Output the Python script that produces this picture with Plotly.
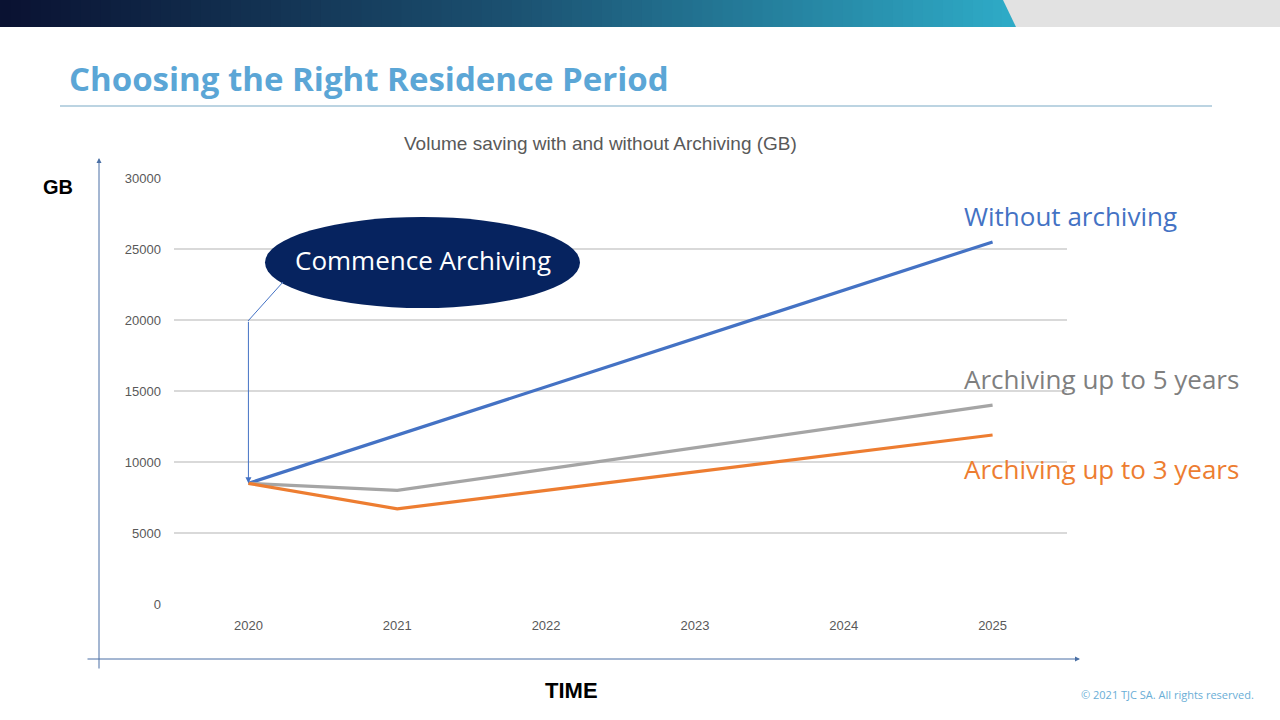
import plotly.graph_objects as go

years = ["2020", "2021", "2022", "2023", "2024", "2025"]
without_archiving = [8500, 11900, 15300, 18700, 22100, 25500]
archiving_5y = [8500, 8000, 9500, 11000, 12500, 14000]
archiving_3y = [8500, 6700, 8000, 9300, 10600, 11900]
y_ticks = [0, 5000, 10000, 15000, 20000, 25000, 30000]

W, H = 1280, 720
def px(x):
    return x / W
def py(y):
    return 1 - y / H

fig = go.Figure()
series = [
    ("Without archiving", without_archiving, "#4472c4"),
    ("Archiving up to 5 years", archiving_5y, "#a5a5a5"),
    ("Archiving up to 3 years", archiving_3y, "#ed7d31"),
]
for name, vals, col in series:
    fig.add_trace(go.Scatter(x=years, y=vals, mode="lines", name=name,
                             line=dict(color=col, width=3.2), showlegend=False))

shapes = []
shapes.append(dict(type="rect", xref="paper", yref="paper", x0=0, x1=1, y0=py(27), y1=1,
                   fillcolor="#e2e2e2", line=dict(width=0), layer="below"))
stops = [(0, (10, 18, 50)), (0.5, (27, 80, 112)), (1.0, (46, 170, 198))]
def interp(t):
    for (t0, c0), (t1, c1) in zip(stops[:-1], stops[1:]):
        if t <= t1:
            f = (t - t0) / (t1 - t0)
            return "rgb(%d,%d,%d)" % tuple(round(a + (b - a) * f) for a, b in zip(c0, c1))
    return "rgb(%d,%d,%d)" % stops[-1][1]
N = 100
xe = 1003
for i in range(N):
    x0 = xe * i / N
    x1 = xe * (i + 1) / N + 1
    shapes.append(dict(type="rect", xref="paper", yref="paper", x0=px(x0), x1=px(min(x1, xe)),
                       y0=py(27), y1=1, fillcolor=interp(i / N), line=dict(width=0), layer="below"))
shapes.append(dict(type="path", xref="paper", yref="paper",
                   path="M %f,%f L %f,%f L %f,%f L %f,%f Z" % (px(xe - 1), 1, px(1003), 1, px(1016), py(27), px(xe - 1), py(27)),
                   fillcolor=interp(1.0), line=dict(width=0), layer="below"))
shapes.append(dict(type="line", xref="paper", yref="paper", x0=px(60), x1=px(1212), y0=py(106), y1=py(106),
                   line=dict(color="#7aa9c6", width=1.2)))
shapes.append(dict(type="circle", xref="paper", yref="paper", x0=px(265), x1=px(580), y0=py(308), y1=py(217),
                   fillcolor="#06235f", line=dict(width=0)))
shapes.append(dict(type="line", xref="paper", yref="paper", x0=px(283), y0=py(282), x1=px(248), y1=py(321),
                   line=dict(color="#4472c4", width=1)))

annotations = []
annotations.append(dict(x=0, y=without_archiving[0], xref="x", yref="y", ax=0, ay=-163,
                        showarrow=True, arrowhead=2, arrowsize=1.2, arrowwidth=1, arrowcolor="#4472c4", text=""))
annotations.append(dict(x=px(99), y=py(158), xref="paper", yref="paper", ax=0, ay=512,
                        showarrow=True, arrowhead=2, arrowsize=1, arrowwidth=1, arrowcolor="#4a6fa5", text=""))
annotations.append(dict(x=px(1080), y=py(659), xref="paper", yref="paper", ax=-994, ay=0,
                        showarrow=True, arrowhead=2, arrowsize=1, arrowwidth=1, arrowcolor="#4a6fa5", text=""))

def txt(text, x, y, size, color, family, xanchor="left", bold=False):
    annotations.append(dict(text=("<b>%s</b>" % text) if bold else text, x=px(x), y=py(y),
                            xref="paper", yref="paper", xanchor=xanchor, yanchor="middle",
                            showarrow=False, font=dict(size=size, color=color, family=family)))

txt("Choosing the Right Residence Period", 67, 78, 33, "#5ba6d6", "Open Sans, sans-serif", bold=True)
txt("Volume saving with and without Archiving (GB)", 600, 144, 19, "#595959",
    "Liberation Sans Narrow, Liberation Sans, Arial", xanchor="center")
txt("Commence Archiving", 423, 260, 26, "#ffffff", "Open Sans, sans-serif", xanchor="center")
txt("Without archiving", 962, 216, 26, "#4472c4", "Open Sans, sans-serif")
txt("Archiving up to 5 years", 962, 379, 26, "#7f7f7f", "Open Sans, sans-serif")
txt("Archiving up to 3 years", 962, 469, 26, "#ed7d31", "Open Sans, sans-serif")
txt("GB", 58, 187, 20, "#000000", "Liberation Sans, Arial", xanchor="center", bold=True)
txt("TIME", 571, 690, 22, "#000000", "Liberation Sans Narrow, Liberation Sans, Arial", xanchor="center", bold=True)
txt("© 2021 TJC SA. All rights reserved.", 1256, 694, 11, "#6aaed6", "Open Sans, sans-serif", xanchor="right")

fig.update_layout(
    width=W, height=H, margin=dict(l=0, r=0, t=0, b=0, autoexpand=False),
    paper_bgcolor="white", plot_bgcolor="white",
    shapes=shapes, annotations=annotations,
    xaxis=dict(domain=[px(174), px(1067)], range=[-0.5, 5.5], type="category", automargin=False,
               showgrid=False, zeroline=False, showline=False, ticks="",
               tickfont=dict(size=13, color="#595959", family="Liberation Sans Narrow, Liberation Sans, Arial"),
               ticklabelstandoff=12),
    yaxis=dict(domain=[py(604), py(178)], range=[0, 30000], tickvals=y_ticks, tickformat="d", automargin=False,
               showgrid=True, gridcolor="#d9d9d9", gridwidth=1.5, zeroline=False, showline=False, ticks="",
               tickfont=dict(size=13, color="#595959", family="Liberation Sans Narrow, Liberation Sans, Arial"),
               ticklabelstandoff=12),
)
fig.write_html("out.html", config={"displayModeBar": False},
               post_script="document.body.style.margin='0';document.body.style.padding='0';"
                           "document.body.style.overflow='hidden';"
                           "var d=document.getElementById('{plot_id}');d.style.position='fixed';"
                           "d.style.top='0';d.style.left='0';")
